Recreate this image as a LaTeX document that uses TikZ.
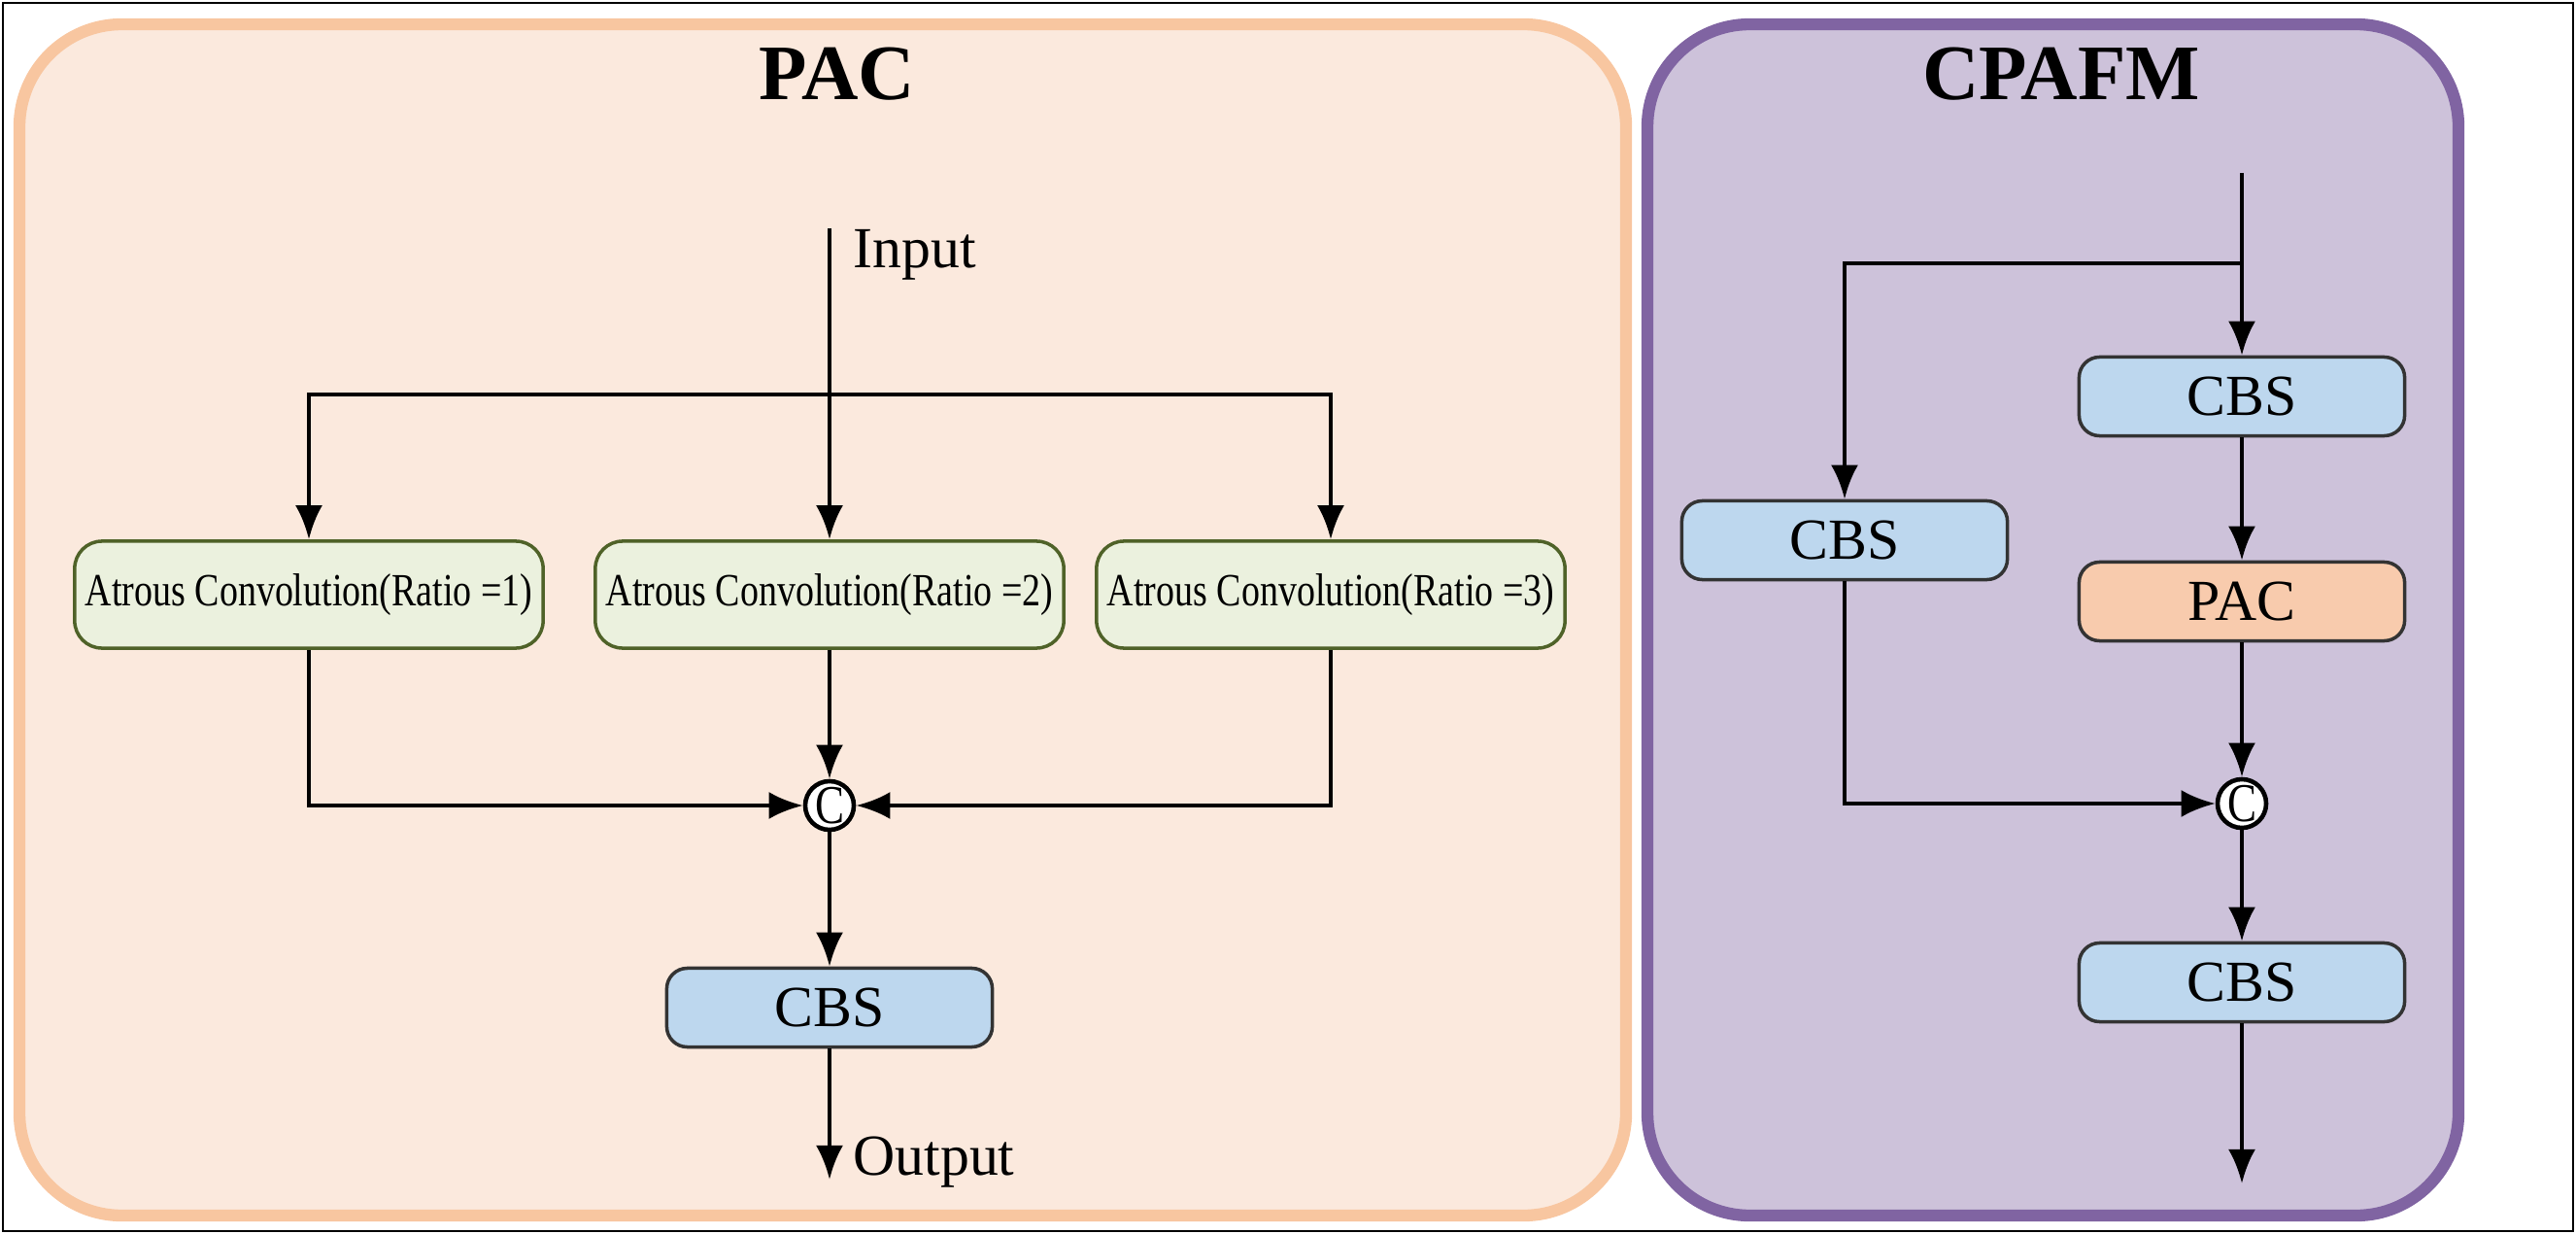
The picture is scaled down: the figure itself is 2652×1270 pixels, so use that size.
\documentclass[tikz,border=0pt]{standalone}
\usepackage{fontspec}
\setmainfont{Liberation Serif}
\newfontfamily\narrowserif{Liberation Serif}[FakeStretch=0.8]
\usetikzlibrary{arrows.meta}
\definecolor{pacfill}{HTML}{FBE9DD}
\definecolor{pacline}{HTML}{F8C6A0}
\definecolor{cpafill}{HTML}{CDC2DA}
\definecolor{cpaline}{HTML}{8064A2}
\definecolor{convfill}{HTML}{EBF1DE}
\definecolor{convline}{HTML}{4F6228}
\definecolor{cbsfill}{HTML}{BDD7EE}
\definecolor{pacbox}{HTML}{F8CBAD}
\tikzset{
  conv/.style={draw=convline, fill=convfill, line width=1pt, rounded corners=8pt, inner sep=1pt, minimum width=4.82cm, minimum height=1.1cm, font=\narrowserif\fontsize{13.5}{15}\selectfont},
  cbs/.style={draw=black!80, fill=cbsfill, line width=1pt, rounded corners=6pt, minimum width=3.35cm, minimum height=0.81cm, font=\fontsize{17}{19}\selectfont},
  cat/.style={draw, circle, fill=white, line width=1.3pt, inner sep=0pt, minimum size=0.5cm, font=\narrowserif\fontsize{16}{17}\selectfont},
  title/.style={font=\fontsize{23}{26}\selectfont\bfseries},
  flow/.style={-{Latex[length=10pt,width=8pt]}, line width=1.3pt},
}
\begin{document}
\begin{tikzpicture}[x=0.01cm, y=-0.01cm]
  \useasboundingbox (0,0) rectangle (2652,1270);
  \draw[line width=0.6pt] (3,3) rectangle (2649,1267);
  % panels
  \draw[pacline, fill=pacfill, line width=3.5pt, rounded corners=30pt] (20,25) rectangle (1674,1251);
  \draw[cpaline, fill=cpafill, line width=3.5pt, rounded corners=30pt] (1696,25) rectangle (2531,1251);
  \node[title] (pactitle) at (862,76) {PAC};
  \node[title] (cpatitle) at (2122,76) {CPAFM};

  % PAC
  \coordinate (in) at (854,235);
  \node[anchor=west, font=\fontsize{17}{19}\selectfont] (inlbl) at (866,262) {Input};
  \coordinate (split) at (854,406);
  \node[conv] (a1) at (318,612) {Atrous Convolution(Ratio =1)};
  \node[conv] (a2) at (854,612) {Atrous Convolution(Ratio =2)};
  \node[conv] (a3) at (1370,612) {Atrous Convolution(Ratio =3)};
  \node[cat] (c1) at (854,829) {C};
  \node[cbs] (cbs1) at (854,1037) {CBS};
  \coordinate (out) at (854,1214);
  \node[anchor=west, font=\fontsize{17}{19}\selectfont] (outlbl) at (866,1196) {Output};
  \draw[flow] (in) -- (a2);
  \draw[flow] (split) -| (a1);
  \draw[flow] (split) -| (a3);
  \draw[flow] (a1) |- (c1);
  \draw[flow] (a2) -- (c1);
  \draw[flow] (a3) |- (c1);
  \draw[flow] (c1) -- (cbs1);
  \draw[flow] (cbs1) -- (out);

  % CPAFM
  \coordinate (top) at (2308,178);
  \coordinate (fork) at (2308,271);
  \node[cbs] (cbs2) at (2308,408) {CBS};
  \node[cbs] (cbs3) at (1899,556) {CBS};
  \node[cbs, fill=pacbox] (pac) at (2308,619) {PAC};
  \node[cat] (c2) at (2308,827) {C};
  \node[cbs] (cbs4) at (2308,1011) {CBS};
  \coordinate (end) at (2308,1218);
  \draw[flow] (top) -- (cbs2);
  \draw[flow] (fork) -| (cbs3);
  \draw[flow] (cbs2) -- (pac);
  \draw[flow] (pac) -- (c2);
  \draw[flow] (cbs3) |- (c2);
  \draw[flow] (c2) -- (cbs4);
  \draw[flow] (cbs4) -- (end);
\end{tikzpicture}
\end{document}
